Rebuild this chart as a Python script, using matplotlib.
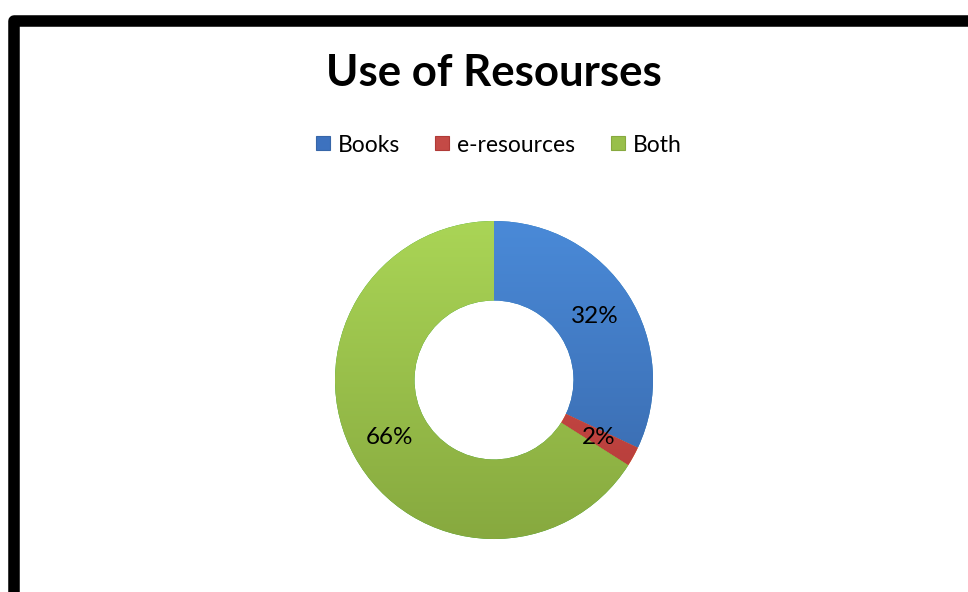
import numpy as np
import matplotlib
matplotlib.use("Agg")
import matplotlib.pyplot as plt
from matplotlib.patches import Rectangle
from matplotlib.lines import Line2D
from matplotlib.colors import LinearSegmentedColormap

plt.rcParams['font.family'] = ['Lato', 'DejaVu Sans']

# share of respondents by resource type
categories = ['Books', 'e-resources', 'Both']
shares = [32, 2, 66]
pct_labels = ['32%', '2%', '66%']

# light / dark shade of each slice
light = ['#4a8ad8', '#d9534f', '#aad556']
dark = ['#3766a8', '#b03a37', '#87a93f']
marker_col = ['#3d72bf', '#c44a46', '#98bf4a']

fig = plt.figure(figsize=(9.68, 5.92), dpi=100)

# outer frame, right and bottom sides run off the edge
fig.patches.append(Rectangle((14 / 968, -3 / 592), 1.2, (592 - 20.5 + 3) / 592,
                             transform=fig.transFigure, fill=False,
                             edgecolor='black', linewidth=8.3,
                             joinstyle='round', zorder=5))

fig.text(494 / 968, 1 - 73 / 592, 'Use of Resourses', ha='center', va='center',
         fontsize=31.5, fontweight='bold')

ax = fig.add_axes([335 / 968, 53 / 592, 318 / 968, 318 / 592])
wedges, _, texts = ax.pie(shares, startangle=90, counterclock=False,
                          radius=1.0, autopct='%1.0f%%', pctdistance=0.75,
                          wedgeprops=dict(width=0.5, linewidth=0),
                          textprops=dict(fontsize=17.5, color='black'))
for t, s in zip(texts, pct_labels):
    t.set_text(s)
    t.set_zorder(10)

# vertical gradient inside every slice
grad = np.linspace(0, 1, 256).reshape(-1, 1)
for w, lc, dc in zip(wedges, light, dark):
    cmap = LinearSegmentedColormap.from_list('g', [dc, lc])
    im = ax.imshow(grad, extent=(-1, 1, -1, 1), origin='lower', cmap=cmap,
                   aspect='auto', zorder=2)
    im.set_clip_path(w)

ax.set_xlim(-1, 1)
ax.set_ylim(-1, 1)
ax.set_aspect('equal')
ax.axis('off')

handles = [Line2D([], [], marker='s', linestyle='none', markersize=10,
                  markerfacecolor=c, markeredgecolor=d, markeredgewidth=0.8)
           for c, d in zip(marker_col, dark)]
fig.legend(handles, categories, loc='center', ncol=3,
           bbox_to_anchor=(498 / 968, 1 - 145 / 592), frameon=False,
           fontsize=16.5, handlelength=0.7, handletextpad=0.3,
           columnspacing=1.5)

fig.savefig('out.png', dpi=100)
